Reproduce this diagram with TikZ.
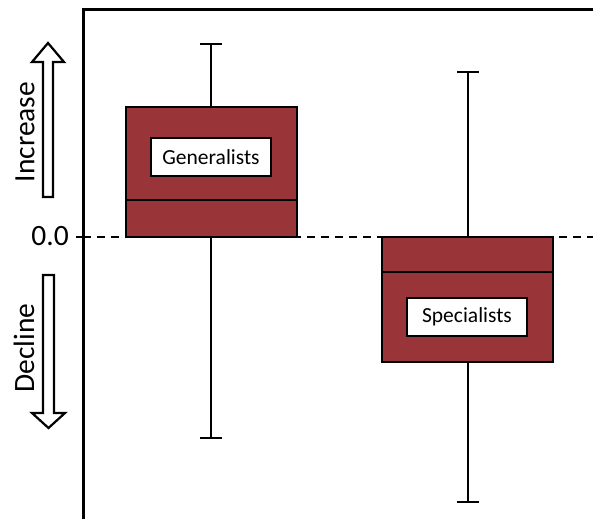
\documentclass[tikz,border=0pt]{standalone}
\usepackage{fontspec}
\setmainfont{Carlito}
\definecolor{boxred}{RGB}{153,52,56}
\begin{document}
\begin{tikzpicture}[x=1pt,y=-1pt,
  axisline/.style={line width=3pt,black},
  boxst/.style={draw=black,fill=boxred,line width=2.4pt,inner sep=0pt},
  labelst/.style={draw=black,fill=white,line width=1.4pt,inner sep=0pt,minimum width=120pt,minimum height=38pt,font=\fontsize{21.5}{24}\selectfont},
  whisk/.style={line width=2.4pt,black},
  bigtext/.style={font=\fontsize{29.5}{32}\selectfont,inner sep=0pt},
  hollowarrow/.style={draw=black,fill=white,line width=2.2pt,line join=miter}
]
\useasboundingbox (0,0) rectangle (593,519);
% axes
\coordinate (origin) at (83,10);
\coordinate (xend) at (593,10);
\coordinate (yend) at (83,519);
\draw[axisline] (xend) -- (origin) -- (yend);
% zero line
\coordinate (zl) at (76,237);
\coordinate (z0) at (83,237);
\coordinate (zr) at (593,237);
\draw[line width=2.2pt,dash pattern=on 8pt off 6pt] (z0) -- (zr);
\draw[line width=2.2pt] (zl) -- (z0);
\node[bigtext,anchor=east] (zero) at (69,236) {0.0};
% generalists
\coordinate (gtop) at (211,44);
\coordinate (gbot) at (211,438);
\draw[whisk] ([xshift=-11pt]gtop) -- ([xshift=11pt]gtop);
\draw[whisk] ([xshift=-11pt]gbot) -- ([xshift=11pt]gbot);
\node[boxst,minimum width=171pt,minimum height=130pt] (gbox) at (211.5,172) {};
\draw[whisk] (gtop) -- (gtop |- gbox.north);
\draw[whisk] (gbot) -- (gbot |- gbox.south);
\coordinate (gmedl) at (126,200);
\coordinate (gmedr) at (297,200);
\draw[whisk] (gmedl) -- (gmedr);
\node[labelst] (glabel) at (211,157) {Generalists};
% specialists
\coordinate (stop) at (468,72);
\coordinate (sbot) at (468,502);
\draw[whisk] ([xshift=-11pt]stop) -- ([xshift=11pt]stop);
\draw[whisk] ([xshift=-11pt]sbot) -- ([xshift=11pt]sbot);
\node[boxst,minimum width=171pt,minimum height=125pt] (sbox) at (467.5,299.5) {};
\draw[whisk] (stop) -- (stop |- sbox.north);
\draw[whisk] (sbot) -- (sbot |- sbox.south);
\coordinate (smedl) at (382,272);
\coordinate (smedr) at (553,272);
\draw[whisk] (smedl) -- (smedr);
\node[labelst] (slabel) at (467,317) {Specialists};
% arrows
\draw[hollowarrow] (43,197) -- (43,62) -- (32,62) -- (48,43) -- (64,62) -- (53,62) -- (53,197) -- cycle;
\draw[hollowarrow] (43,275) -- (43,413) -- (32,413) -- (48.5,428) -- (65,413) -- (54,413) -- (54,275) -- cycle;
\node[bigtext,rotate=90] (inc) at (25,132) {Increase};
\node[bigtext,rotate=90] (dec) at (24,348) {Decline};
\end{tikzpicture}
\end{document}
